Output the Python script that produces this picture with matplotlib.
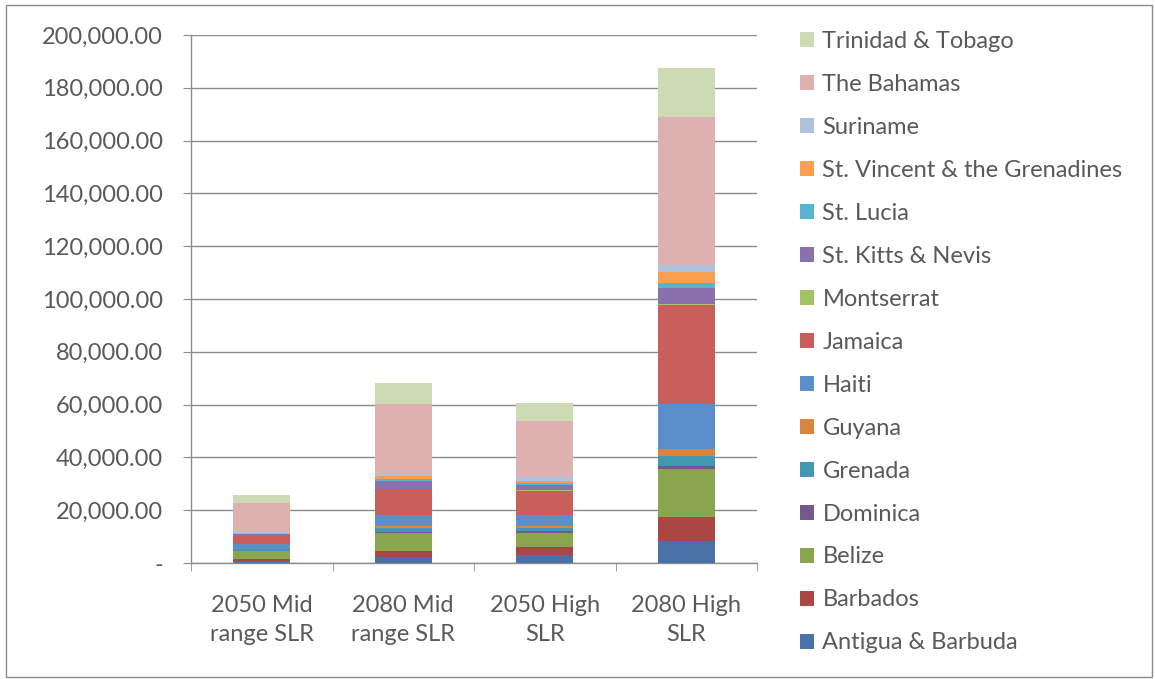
import numpy as np
import matplotlib
matplotlib.use("Agg")
import matplotlib.pyplot as plt
from matplotlib.ticker import FuncFormatter, FixedLocator
from matplotlib.patches import Rectangle

plt.rcParams['font.family'] = ['Lato', 'DejaVu Sans']

scenarios = ['2050 Mid\nrange SLR', '2080 Mid\nrange SLR', '2050 High\nSLR', '2080 High\nSLR']

countries = ['Antigua & Barbuda', 'Barbados', 'Belize', 'Dominica', 'Grenada', 'Guyana',
             'Haiti', 'Jamaica', 'Montserrat', 'St. Kitts & Nevis', 'St. Lucia',
             'St. Vincent & the Grenadines', 'Suriname', 'The Bahamas', 'Trinidad & Tobago']

# values per country, one per scenario
antigua = [900, 2400, 3050, 8200]
barbados = [500, 2000, 2900, 9400]
belize = [3050, 7000, 5600, 18070]
dominica = [150, 250, 600, 1030]
grenada = [640, 1500, 1000, 3700]
guyana = [250, 900, 1000, 2680]
haiti = [1800, 4300, 4200, 17040]
jamaica = [2900, 9600, 8800, 37700]
montserrat = [100, 250, 600, 200]
st_kitts = [600, 2800, 1900, 6300]
st_lucia = [200, 1000, 600, 1900]
st_vincent = [300, 1000, 900, 3900]
suriname = [250, 900, 1400, 2900]
bahamas = [11100, 26500, 21300, 55800]
trinidad = [2900, 7600, 6750, 18700]

series = [antigua, barbados, belize, dominica, grenada, guyana, haiti, jamaica,
          montserrat, st_kitts, st_lucia, st_vincent, suriname, bahamas, trinidad]

colors = ['#4A72A8', '#AA4643', '#89A54E', '#71588F', '#4198AF', '#DB843D',
          '#5B8FCB', '#C95F5C', '#A5C262', '#8B70AE', '#56B4CE', '#F79F52',
          '#AFC1DD', '#DEB1B0', '#CCDBB3']

txt = '#595959'
grid = '#8C8C8C'
fs = 17

fig = plt.figure(figsize=(11.55, 6.79), dpi=100)
ax = fig.add_axes([191/1155, 1-563/679, (757-191)/1155, (563-35)/679])

x = np.arange(len(scenarios))
bottom = np.zeros(len(scenarios))
handles = []
for name, vals, c in zip(countries, series, colors):
    b = ax.bar(x, vals, 0.4, bottom=bottom, color=c, label=name, zorder=3)
    handles.append(b)
    bottom += np.array(vals)

ax.set_xlim(-0.5, 3.5)
ax.set_ylim(0, 200000)
ax.set_yticks(np.arange(0, 200001, 20000))
ax.yaxis.set_major_formatter(FuncFormatter(lambda v, p: '-' if v == 0 else f'{v:,.2f}'))
ax.yaxis.grid(True, color=grid, linewidth=1, zorder=0)
ax.set_xticks(x)
ax.set_xticklabels(scenarios, linespacing=1.45)
ax.xaxis.set_minor_locator(FixedLocator(np.arange(-0.5, 4, 1)))
ax.tick_params(axis='x', which='major', length=0, pad=23, labelsize=fs, labelcolor=txt)
ax.tick_params(axis='x', which='minor', length=6, color=grid, direction='out')
ax.tick_params(axis='y', length=6, color=grid, pad=14, labelsize=fs, labelcolor=txt)
for s in ['top', 'right']:
    ax.spines[s].set_visible(False)
for s in ['left', 'bottom']:
    ax.spines[s].set_color(grid)
    ax.spines[s].set_linewidth(1)

leg = fig.legend(handles[::-1], countries[::-1], loc='upper left',
                 bbox_to_anchor=(800/1155, 1-31/679), frameon=False,
                 fontsize=fs, labelspacing=0.93, handlelength=0.6, handleheight=0.6,
                 handletextpad=0.35, borderpad=0, borderaxespad=0)
for t in leg.get_texts():
    t.set_color(txt)

fig.patches.append(Rectangle((6/1155, 2/679), 1146/1155, 672/679, transform=fig.transFigure,
                             fill=False, edgecolor='#8C8C8C', linewidth=1))

fig.savefig('out.png', dpi=100)
